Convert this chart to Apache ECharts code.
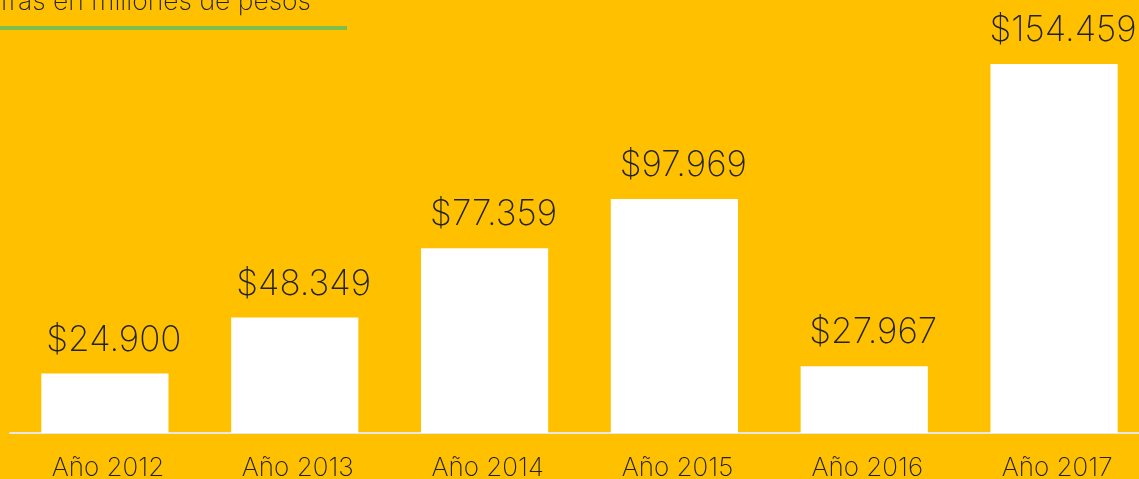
<!DOCTYPE html>
<html>
<head>
<meta charset="utf-8">
<script src="https://cdn.jsdelivr.net/npm/echarts@6/dist/echarts.min.js"></script>
<style>
  html, body { margin: 0; padding: 0; background: #FFC000; }
  #chart { width: 1139px; height: 479px; }
</style>
</head>
<body>
<div id="chart"></div>
<script>
// datos del grafico
var categorias = ['Año 2012', 'Año 2013', 'Año 2014', 'Año 2015', 'Año 2016', 'Año 2017']
var valores = [24900, 48349, 77359, 97969, 27967, 154459]
var etiquetas = ['$24.900', '$48.349', '$77.359', '$97.969', '$27.967', '$154.459']
var titulo = 'Cifras en millones de pesos'

var fuente = '"Helvetica Neue", Inter, "Liberation Sans", sans-serif'
var chart = echarts.init(document.getElementById('chart'))

chart.setOption({
  backgroundColor: '#FFC000',
  animation: false,
  grid: {
    left: 10,
    width: 1139,
    top: 64,
    bottom: 46,
    containLabel: false,
    outerBoundsMode: 'none'
  },
  graphic: [
    {
      type: 'text',
      right: 828,
      top: -11,
      style: {
        text: titulo,
        font: '200 26.5px ' + fuente,
        fill: '#222'
      }
    },
    {
      type: 'rect',
      shape: { x: 0, y: 26, width: 347, height: 4 },
      style: { fill: '#7DBF4A' }
    }
  ],
  xAxis: {
    type: 'category',
    data: categorias,
    axisLine: { lineStyle: { color: '#E6E6E6', width: 2 } },
    axisTick: { show: false },
    axisLabel: {
      color: '#222',
      fontSize: 26,
      fontWeight: 200,
      fontFamily: fuente,
      margin: 22,
      padding: [0, 0, 0, 6]
    }
  },
  yAxis: {
    type: 'value',
    min: 0,
    max: 'dataMax',
    show: false,
    splitLine: { show: false }
  },
  series: [
    {
      type: 'bar',
      data: valores,
      barWidth: '67%',
      itemStyle: { color: '#FFFFFF' },
      label: {
        show: true,
        position: 'top',
        distance: 16,
        offset: [9, 0],
        color: '#222',
        fontSize: 35,
        fontWeight: 200,
        fontFamily: fuente,
        formatter: function (p) { return etiquetas[p.dataIndex] }
      }
    }
  ]
})
</script>
</body>
</html>
